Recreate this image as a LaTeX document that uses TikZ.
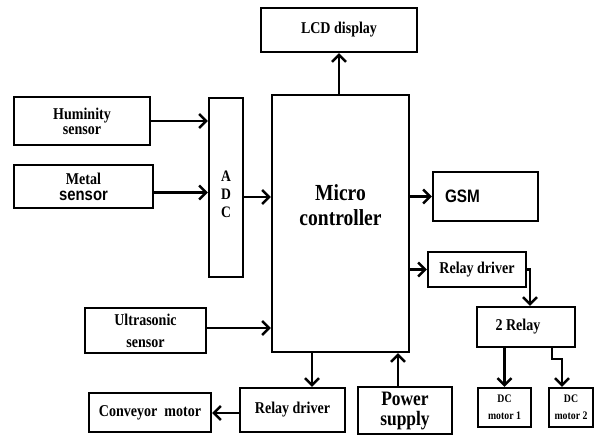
\documentclass[tikz,border=0pt]{standalone}
\usepackage{fontspec}
\setmainfont{Liberation Serif}[FakeStretch=0.85]
\newfontfamily\sansbf{Liberation Sans}[FakeStretch=0.85]
\usetikzlibrary{arrows.meta}

\begin{document}
\begin{tikzpicture}[x=1pt,y=-1pt,
  blk/.style={draw, line width=2.4pt, inner sep=0pt, align=center,
    font=\fontsize{16.5}{15}\selectfont\bfseries},
  arr/.style={line width=2.4pt, ->},
  >={Straight Barb[length=7pt,width=14pt]}]

\useasboundingbox (0,0) rectangle (594,436);

%---------------------------------------
% Sensors and ADC
%---------------------------------------
\node[blk, minimum width=136, minimum height=48] (hum) at (82,121) {Huminity\\sensor};
\node[blk, minimum width=139, minimum height=43, font=\fontsize{16.5}{16}\selectfont\bfseries]
  (metal) at (83.5,186.5) {Metal\\{\sansbf\fontsize{17.5}{16}\selectfont sensor}};
\node[blk, minimum width=121, minimum height=45, font=\fontsize{16.5}{22}\selectfont\bfseries]
  (ultra) at (145.5,330.5) {Ultrasonic\\sensor};
\node[blk, minimum width=34, minimum height=179,
  label={[font=\fontsize{16}{18}\selectfont\bfseries, align=center, yshift=-7pt]center:A\\D\\C}]
  (adc) at (226,187.5) {};

%---------------------------------------
% Controller
%---------------------------------------
\node[blk, minimum width=137, minimum height=257,
  label={[font=\fontsize{23}{25}\selectfont\bfseries, align=center, yshift=18pt]center:Micro\\controller}]
  (mc) at (340.5,223.5) {};

%---------------------------------------
% Outputs
%---------------------------------------
\node[blk, minimum width=156, minimum height=44] (lcd) at (339,30) {LCD display};
\node[blk, minimum width=105, minimum height=49,
  label={[font=\sansbf\fontsize{18}{16}\selectfont\bfseries, xshift=-23pt]center:GSM}]
  (gsm) at (485.5,196.5) {};
\node[blk, minimum width=98, minimum height=35] (rdr) at (477,269.5) {Relay driver};
\node[blk, minimum width=98, minimum height=40,
  label={[font=\fontsize{16.5}{15}\selectfont\bfseries, xshift=-8pt]center:2 Relay}]
  (relay2) at (526,327) {};
\node[blk, minimum width=53, minimum height=39, font=\fontsize{11.5}{17}\selectfont\bfseries]
  (dc1) at (504.5,407.5) {DC\\motor 1};
\node[blk, minimum width=44, minimum height=39, font=\fontsize{11.5}{17}\selectfont\bfseries]
  (dc2) at (571,407.5) {DC\\motor 2};

\node[blk, minimum width=105, minimum height=44] (rdl) at (292.5,410) {Relay driver};
\node[blk, minimum width=122, minimum height=39] (conv) at (150,412.5) {Conveyor\ \ motor};
\node[blk, minimum width=94, minimum height=47, font=\fontsize{20.5}{20}\selectfont\bfseries]
  (power) at (405,410.5) {Power\\supply};

%---------------------------------------
% Connections
%---------------------------------------
\draw[arr] (hum.east) -- (hum.east -| adc.west);
\draw[arr] ([yshift=-6pt]metal.east) -- ([yshift=-6pt]metal.east -| adc.west);
\draw[arr] ([yshift=-9.5pt]adc.east) -- ([yshift=-9.5pt]adc.east -| mc.west);
\draw[arr] ([yshift=2.5pt]ultra.east) -- ([yshift=2.5pt]ultra.east -| mc.west);

\draw[arr] (lcd.south |- mc.north) -- (lcd.south);
\draw[arr] (mc.east |- gsm.west) -- (gsm.west);
\draw[arr] (mc.east |- rdr.west) -- (rdr.west);
\draw[arr] (rdr.east) -| ([xshift=4pt]relay2.north);
\draw[arr] (dc1.north |- relay2.south) -- (dc1.north);
\draw[arr] ([xshift=26pt]relay2.south) -- ++(0,11) -| ([xshift=-9pt]dc2.north);

\draw[arr] ([xshift=19.5pt]rdl.north |- mc.south) -- ([xshift=19.5pt]rdl.north);
\draw[arr] ([yshift=-3pt]rdl.west) -- ([yshift=-3pt]rdl.west -| conv.east);
\draw[arr] ([xshift=-7pt]power.north) -- ([xshift=-7pt]power.north |- mc.south);

\end{tikzpicture}
\end{document}
